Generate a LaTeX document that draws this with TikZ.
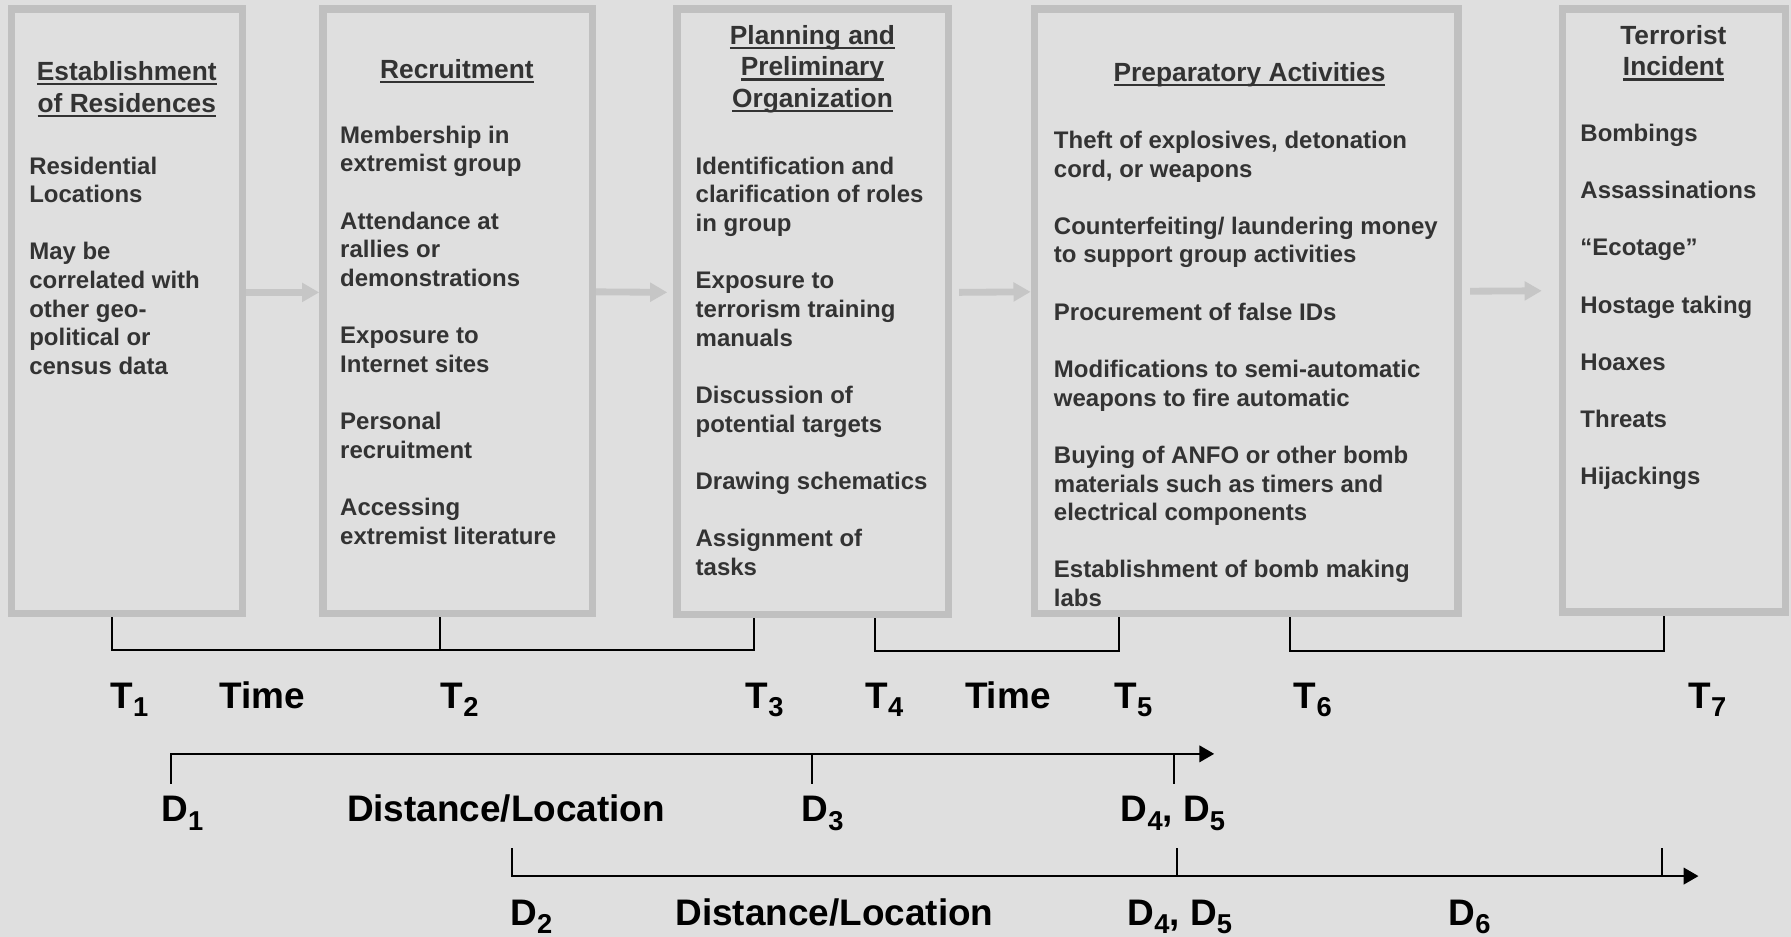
\documentclass[tikz,border=0pt]{standalone}
\usepackage{fontspec}
\setmainfont{Liberation Sans}
\usepackage{tikz}
\usetikzlibrary{arrows.meta,calc,positioning}
\definecolor{TLBg}{HTML}{DFDFDF}
\definecolor{TLFrame}{HTML}{C0C0C0}
\definecolor{TLText}{HTML}{333333}
\definecolor{TLFlow}{HTML}{C6C6C6}
\newcommand{\tlhead}[1]{\setbox0\hbox{#1}\rlap{\rule[-2.3pt]{\wd0}{1.1pt}}\box0}
\newcommand{\tlsub}[1]{\raisebox{-4.3pt}{\fontsize{13.6}{13.6}\selectfont #1}}
\newcommand{\tlgap}{\\[14.27pt]}
\tikzset{
  tlStage/.style={
    rectangle, draw=TLFrame, fill=TLBg, line width=3.7pt
  },
  tlTitle/.style={
    align=center, inner sep=0pt, text=TLText, anchor=base,
    font=\bfseries\fontsize{13.1}{15.8}\selectfont
  },
  tlBody/.style={
    align=left, inner sep=0pt, text=TLText, anchor=base west,
    font=\bfseries\fontsize{11.95}{14.27}\selectfont
  },
  tlFlow/.style={-{Triangle[length=0.3cm,width=0.32cm]}, draw=TLFlow, line width=3.4pt},
  tlTime/.style={draw=black, line width=1pt},
  tlDist/.style={draw=black, line width=1.1pt},
  tlDistArrow/.style={-{Triangle[length=0.26cm,width=0.29cm]}, draw=black, line width=1.1pt},
  tlLabel/.style={inner sep=0pt, anchor=base west, font=\bfseries\fontsize{18.4}{20}\selectfont}
}
\begin{document}
\begin{tikzpicture}[x=0.02cm, y=-0.02cm]
  \fill[TLBg] (0,0) rectangle (1568,820);
  \useasboundingbox (0,0) rectangle (1568,820);

  % stage boxes
  \node[tlStage, minimum width=4.048cm, minimum height=10.58cm] (res) at (111.2,272.5) {};
  \node[tlStage, minimum width=4.716cm, minimum height=10.58cm] (recr) at (400.6,272.5) {};
  \node[tlStage, minimum width=4.758cm, minimum height=10.6cm] (plan) at (711.65,273) {};
  \node[tlStage, minimum width=7.42cm, minimum height=10.58cm] (prep) at (1091,272.5) {};
  \node[tlStage, minimum width=3.9cm, minimum height=10.56cm] (incid) at (1465.5,272) {};

  % titles (anchored at the baseline of the last line)
  \node[tlTitle] (resT) at (111,98.4) {\tlhead{Establishment}\\\tlhead{of Residences}};
  \node[tlTitle] (recrT) at (400,69) {\tlhead{Recruitment}};
  \node[tlTitle] (planT) at (711.3,94.3) {\tlhead{Planning and}\\\tlhead{Preliminary}\\\tlhead{Organization}};
  \node[tlTitle] (prepT) at (1094,71.5) {\tlhead{Preparatory Activities}};
  \node[tlTitle] (incidT) at (1465,66.5) {Terrorist\\\tlhead{Incident}};

  % stage contents
  \node[tlBody] (resB) at (25.3,327.9) {Residential\\Locations\tlgap May be\\correlated with\\other geo-\\political or\\census data};
  \node[tlBody] (recrB) at (297.5,476.4) {Membership in\\extremist group\tlgap Attendance at\\rallies or\\demonstrations\tlgap Exposure to\\Internet sites\tlgap Personal\\recruitment\tlgap Accessing\\extremist literature};
  \node[tlBody] (planB) at (608.7,503.6) {Identification and\\clarification of roles\\in group\tlgap Exposure to\\terrorism training\\manuals\tlgap Discussion of\\potential targets\tlgap Drawing schematics\tlgap Assignment of\\tasks};
  \node[tlBody] (prepB) at (922.4,531.1) {Theft of explosives, detonation\\cord, or weapons\tlgap Counterfeiting/ laundering money\\to support group activities\tlgap Procurement of false IDs\tlgap Modifications to semi-automatic\\weapons to fire automatic\tlgap Buying of ANFO or other bomb\\materials such as timers and\\electrical components\tlgap Establishment of bomb making\\labs};
  \node[tlBody] (incidB) at (1383.3,424.6) {Bombings\tlgap Assassinations\tlgap “Ecotage”\tlgap Hostage taking\tlgap Hoaxes\tlgap Threats\tlgap Hijackings};

  % flow between stages
  \draw[tlFlow] ([yshift=0.33cm]res.east) -- ([yshift=0.33cm]recr.west);
  \draw[tlFlow, shorten >=0.106cm] ([yshift=0.34cm]recr.east) -- ([yshift=0.34cm]plan.west);
  \draw[tlFlow, shorten <=0.116cm] ([yshift=0.34cm]plan.east) -- ([yshift=0.34cm]prep.west);
  \draw[tlFlow, shorten <=0.148cm, shorten >=0.3cm] ([yshift=0.35cm]prep.east) -- ([yshift=0.35cm]incid.west);

  % time brackets
  \coordinate (tb1) at (98,569);
  \coordinate (tb2) at (385,569);
  \coordinate (tb3) at (660,569);
  \coordinate (tb4) at (766,570);
  \coordinate (tb5) at (980,570);
  \coordinate (tb6) at (1129,570);
  \coordinate (tb7) at (1457,570);
  \draw[tlTime] (res.south -| tb1) -- (tb1) -- (tb3) -- (plan.south -| tb3);
  \draw[tlTime] (recr.south -| tb2) -- (tb2);
  \draw[tlTime] (plan.south -| tb4) -- (tb4) -- (tb5) -- (prep.south -| tb5);
  \draw[tlTime] (prep.south -| tb6) -- (tb6) -- (tb7) -- (incid.south -| tb7);

  \node[tlLabel] (t1) at (96.5,620) {T\tlsub{1}};
  \node[tlLabel] (time1) at (192,620) {Time};
  \node[tlLabel] (t2) at (385.5,620) {T\tlsub{2}};
  \node[tlLabel] (t3) at (652.5,620) {T\tlsub{3}};
  \node[tlLabel] (t4) at (757.5,620) {T\tlsub{4}};
  \node[tlLabel] (time2) at (844.5,620) {Time};
  \node[tlLabel] (t5) at (975.5,620) {T\tlsub{5}};
  \node[tlLabel] (t6) at (1132.5,620) {T\tlsub{6}};
  \node[tlLabel] (t7) at (1478,620) {T\tlsub{7}};

  % distance axes
  \coordinate (d1top) at (150,660);
  \coordinate (d1tick) at (150,686);
  \coordinate (d1end) at (1063,660);
  \coordinate (d3top) at (711,660);
  \coordinate (d3tick) at (711,686);
  \coordinate (d4top) at (1028,660);
  \coordinate (d4tick) at (1028,686);
  \draw[tlDistArrow] (d1tick) -- (d1top) -- (d1end);
  \draw[tlDist] (d3top) -- (d3tick);
  \draw[tlDist] (d4top) -- (d4tick);

  \coordinate (d2tick) at (448,742.5);
  \coordinate (d2base) at (448,767);
  \coordinate (d2end) at (1487,767);
  \coordinate (d5tick) at (1030.5,742.5);
  \coordinate (d5base) at (1030.5,767);
  \coordinate (d6tick) at (1455,742.5);
  \coordinate (d6base) at (1455,767);
  \draw[tlDistArrow] (d2tick) -- (d2base) -- (d2end);
  \draw[tlDist] (d5tick) -- (d5base);
  \draw[tlDist] (d6tick) -- (d6base);

  \node[tlLabel] (dd1) at (141,719.4) {D\tlsub{1}};
  \node[tlLabel] (dist1) at (303.5,719.4) {Distance/Location};
  \node[tlLabel] (dd3) at (701.5,719.4) {D\tlsub{3}};
  \node[tlLabel] (dd45a) at (981,719.4) {D\tlsub{4}, D\tlsub{5}};
  \node[tlLabel] (dd2) at (446.5,810) {D\tlsub{2}};
  \node[tlLabel] (dist2) at (591,810) {Distance/Location};
  \node[tlLabel] (dd45b) at (987,810) {D\tlsub{4}, D\tlsub{5}};
  \node[tlLabel] (dd6) at (1268,810) {D\tlsub{6}};
\end{tikzpicture}
\end{document}
